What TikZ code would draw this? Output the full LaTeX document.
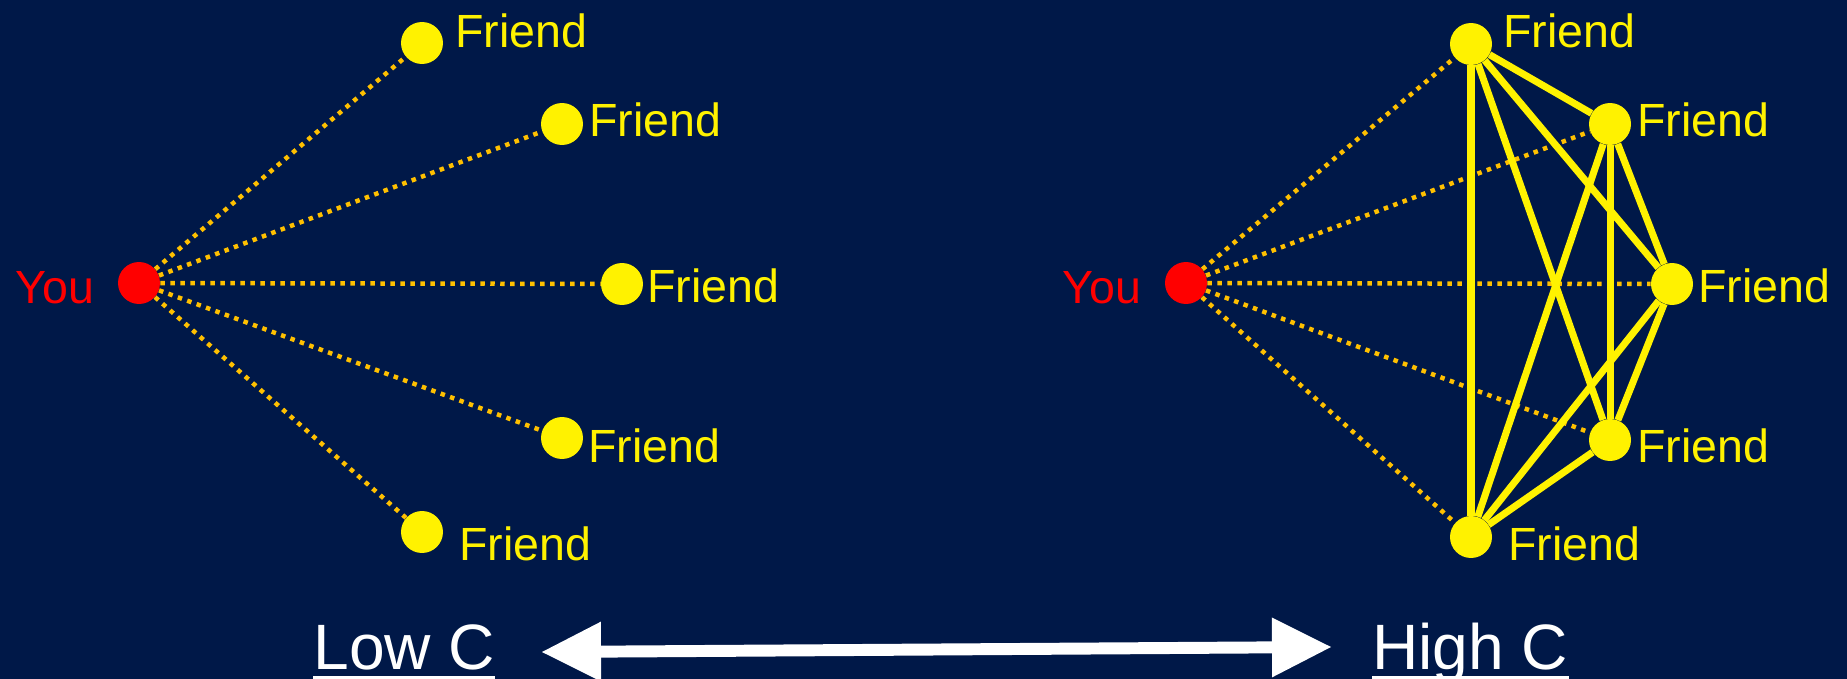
\documentclass[tikz,border=0pt]{standalone}
\usepackage{fontspec}
\setmainfont{Liberation Sans}
\usepackage{xcolor}
\usetikzlibrary{arrows.meta}
\definecolor{navybg}{HTML}{001848}
\definecolor{tiegold}{HTML}{FFC000}

\begin{document}
\begin{tikzpicture}[
    x=0.02cm, y=-0.02cm,
    pal/.style={circle, fill=#1, draw=none, minimum size=0.84cm, inner sep=0pt},
    nametag/.style={anchor=base west, inner sep=0pt, text=#1, font=\fontsize{26.5}{30}\selectfont},
    endtag/.style={anchor=base west, inner sep=0pt, text=white, font=\fontsize{36.5}{40}\selectfont},
    tie/.style={draw=tiegold, line width=2.56pt, dash pattern=on 2.56pt off 3.13pt},
    bond/.style={draw=yellow, line width=4pt},
    uline/.style={draw=white, line width=1.8pt},
    bigtip/.tip={Triangle[length=33.6pt, width=34.1pt, line width=0pt]}
]
\useasboundingbox (0,0) rectangle (1847,679);
\fill[navybg] (0,0) rectangle (1847,679);

\node[pal=red] (you1) at (139,283) {};
\node[pal=yellow] (a1) at (422,43) {};
\node[pal=yellow] (a2) at (562,124) {};
\node[pal=yellow] (a3) at (622,284) {};
\node[pal=yellow] (a4) at (562,438) {};
\node[pal=yellow] (a5) at (422,532) {};

\node[pal=red] (you2) at (1186,283) {};
\node[pal=yellow] (b1) at (1471,44) {};
\node[pal=yellow] (b2) at (1610,124) {};
\node[pal=yellow] (b3) at (1672,284) {};
\node[pal=yellow] (b4) at (1610,440) {};
\node[pal=yellow] (b5) at (1471,537) {};

\node[nametag=red] (youtag1) at (15,303) {You};
\node[nametag=yellow] (tag-a1) at (455,48) {Friend};
\node[nametag=yellow] (tag-a2) at (589,137) {Friend};
\node[nametag=yellow] (tag-a3) at (647,302) {Friend};
\node[nametag=yellow] (tag-a4) at (588,462) {Friend};
\node[nametag=yellow] (tag-a5) at (459,560) {Friend};

\node[nametag=red] (youtag2) at (1062,303) {You};
\node[nametag=yellow] (tag-b1) at (1503,48) {Friend};
\node[nametag=yellow] (tag-b2) at (1637,137) {Friend};
\node[nametag=yellow] (tag-b3) at (1698,302) {Friend};
\node[nametag=yellow] (tag-b4) at (1637,462) {Friend};
\node[nametag=yellow] (tag-b5) at (1508,560) {Friend};

\foreach \i in {1,...,5} {
    \draw[tie] (you1) -- (a\i);
    \draw[tie] (you2) -- (b\i);
}
\foreach \i/\j in {1/2,1/3,1/4,1/5,2/3,2/4,2/5,3/4,3/5,4/5}
    \draw[bond] (b\i) -- (b\j);

\node[endtag] (lowc) at (313,669) {Low C};
\node[endtag] (highc) at (1372,669) {High C};
\draw[uline] ([yshift=-5.1pt]lowc.base west) -- ([yshift=-5.1pt]lowc.base east);
\draw[uline] ([yshift=-5.1pt]highc.base west) -- ([yshift=-5.1pt]highc.base east);

\coordinate (lowend) at (542,652);
\coordinate (highend) at (1331,647);
\draw[white, line width=6.8pt, bigtip-bigtip] (lowend) -- (highend);
\end{tikzpicture}
\end{document}
